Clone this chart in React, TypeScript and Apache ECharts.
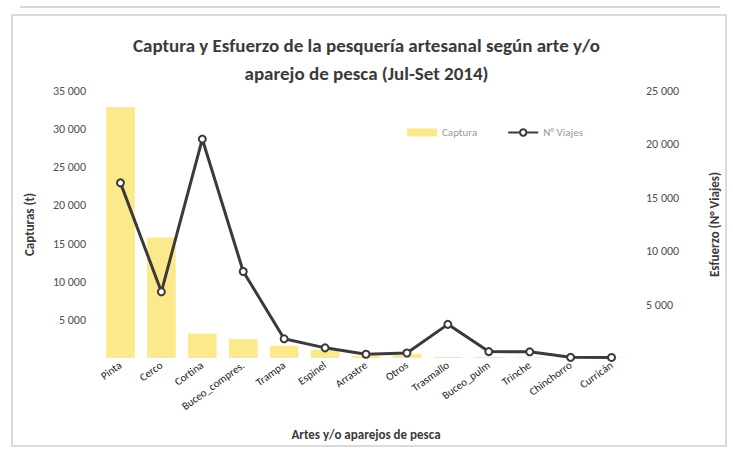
import React, { useEffect, useRef } from "react";
import * as echarts from "echarts";

const categories = [
  "Pinta", "Cerco", "Cortina", "Buceo_compres.", "Trampa", "Espinel", "Arrastre",
  "Otros", "Trasmallo", "Buceo_pulm", "Trinche", "Chinchorro", "Curricán",
];
const capturas = [32900, 15800, 3200, 2500, 1600, 1100, 300, 500, 150, 120, 80, 60, 40];
const viajes = [16400, 6200, 20500, 8100, 1800, 950, 350, 470, 3150, 600, 580, 60, 50];
const leftTicks = { min: 0, max: 35000, interval: 5000 };
const rightTicks = { min: 0, max: 25000, interval: 5000 };

const FONT = "Carlito, 'Liberation Sans Narrow', 'Open Sans', sans-serif";

const fmt = (v: number) =>
  v === 0 ? "" : String(v).replace(/\B(?=(\d{3})+(?!\d))/g, " ");

export default function App() {
  const ref = useRef<HTMLDivElement>(null);
  useEffect(() => {
    document.body.style.margin = "0";
    const chart = echarts.init(ref.current!, null, { renderer: "svg" });
    chart.setOption({
      animation: false,
      backgroundColor: "#ffffff",
      textStyle: { fontFamily: FONT },
      title: {
        text: "Captura y Esfuerzo de la pesquería artesanal según arte y/o\naparejo de pesca (Jul-Set 2014)",
        left: "center",
        top: 26,
        textStyle: {
          fontFamily: FONT,
          fontSize: 19,
          fontWeight: "bold",
          color: "#3a3a3a",
          lineHeight: 28,
        },
      },
      legend: {
        left: 402,
        top: 122,
        itemGap: 30,
        itemWidth: 30,
        itemHeight: 8,
        textStyle: { fontFamily: FONT, fontSize: 11, color: "#9a9a9a" },
        data: [
          { name: "Captura", icon: "rect" },
          { name: "N° Viajes" },
        ],
      },
      graphic: [
        {
          type: "rect",
          shape: { x: 12, y: 15, width: 714, height: 431 },
          style: { fill: "none", stroke: "#cfcfcf", lineWidth: 1.5 },
          silent: true,
        },
        {
          type: "line",
          shape: { x1: 20, y1: 7, x2: 720, y2: 7 },
          style: { stroke: "#d8d8d8", lineWidth: 2 },
          silent: true,
        },
      ],
      grid: { left: 100, right: 101, top: 91, bottom: 92 },
      xAxis: {
        type: "category",
        data: categories,
        name: "Artes y/o aparejos de pesca",
        nameLocation: "middle",
        nameGap: 70,
        nameTextStyle: { fontFamily: FONT, fontSize: 13, fontWeight: "bold", color: "#3a3a3a" },
        axisLine: { show: false },
        axisTick: { show: false },
        axisLabel: {
          rotate: 36,
          interval: 0,
          fontSize: 11,
          color: "#222222",
          fontFamily: FONT,
          margin: 6,
        },
      },
      yAxis: [
        {
          type: "value",
          ...leftTicks,
          name: "Capturas (t)",
          nameLocation: "middle",
          nameGap: 64,
          nameTextStyle: { fontFamily: FONT, fontSize: 13, fontWeight: "bold", color: "#3a3a3a" },
          splitLine: { show: false },
          axisLine: { show: false },
          axisTick: { show: false },
          axisLabel: { formatter: fmt, fontSize: 12, color: "#505050", fontFamily: FONT, margin: 14 },
        },
        {
          type: "value",
          ...rightTicks,
          name: "Esfuerzo (N° Viajes)",
          nameLocation: "middle",
          nameGap: 76,
          nameTextStyle: { fontFamily: FONT, fontSize: 13, fontWeight: "bold", color: "#3a3a3a" },
          splitLine: { show: false },
          axisLine: { show: false },
          axisTick: { show: false },
          axisLabel: { formatter: fmt, fontSize: 12, color: "#505050", fontFamily: FONT, margin: 14 },
        },
      ],
      series: [
        {
          name: "Captura",
          type: "bar",
          yAxisIndex: 0,
          data: capturas,
          barCategoryGap: "30%",
          itemStyle: { color: "#fce98c" },
        },
        {
          name: "N° Viajes",
          type: "line",
          yAxisIndex: 1,
          data: viajes,
          symbol: "emptyCircle",
          symbolSize: 7,
          lineStyle: { color: "#3a3a3a", width: 3 },
          itemStyle: { color: "#3a3a3a", borderWidth: 2 },
        },
      ],
    });
    return () => chart.dispose();
  }, []);
  return <div ref={ref} style={{ width: 733, height: 450 }} />;
}
